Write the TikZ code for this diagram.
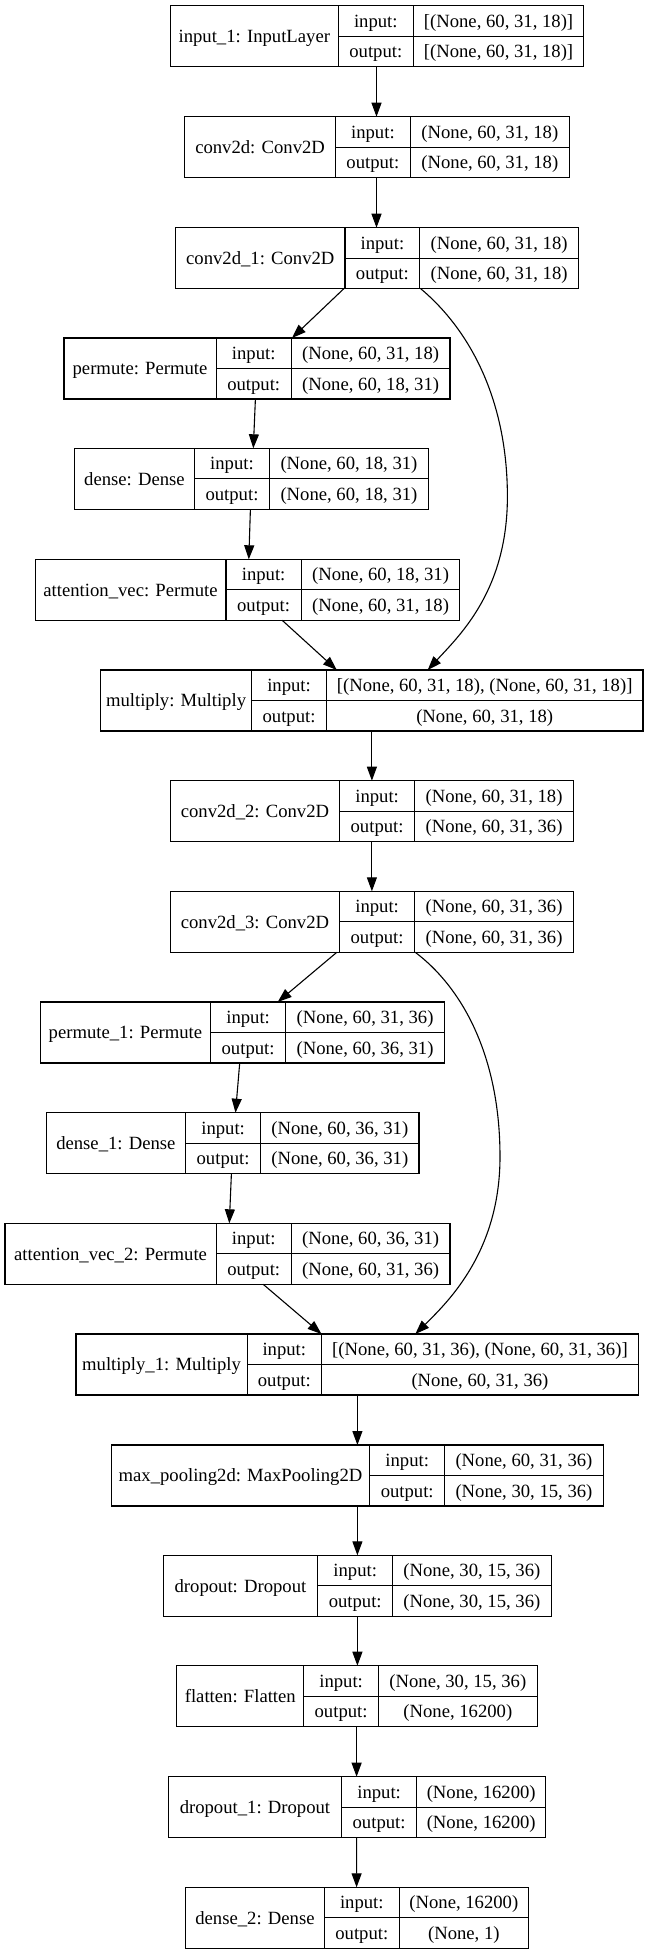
\documentclass[tikz,border=0pt]{standalone}
\usepackage{fontspec}
\setmainfont{Liberation Serif}
\usetikzlibrary{arrows.meta}
\tikzset{
  box/.style={draw=black, line width=1.1pt, rectangle, inner sep=0pt, outer sep=0pt, minimum height=61pt},
  txt/.style={inner sep=0pt, anchor=base, font=\fontsize{18.67}{22}\selectfont},
  rule/.style={draw=black, line width=1.1pt},
  arr/.style={draw=black, line width=1.1pt, -{Triangle[length=14pt,width=10pt]}}
}
\newcommand\krec[9]{%
  \pgfmathsetmacro\kW{#5-#2}%
  \pgfmathsetmacro\kA{(#2+#3)/2}%
  \pgfmathsetmacro\kB{(#3+#4)/2}%
  \pgfmathsetmacro\kC{(#4+#5)/2}%
  \pgfmathsetmacro\kT{#6+21.5}%
  \pgfmathsetmacro\kM{#6+36.7}%
  \pgfmathsetmacro\kU{#6+52}%
  \pgfmathsetmacro\kP{#3-#2}%
  \pgfmathsetmacro\kQ{#4-#2}%
  \node[box, minimum width=\kW pt, anchor=north west] (#1) at (#2,#6) {};
  \node[txt] (#1-l) at (\kA,\kM) {#7};
  \node[txt] (#1-ik) at (\kB,\kT) {input:};
  \node[txt] (#1-ok) at (\kB,\kU) {output:};
  \node[txt] (#1-iv) at (\kC,\kT) {#8};
  \node[txt] (#1-ov) at (\kC,\kU) {#9};
  \draw[rule] ([xshift=\kP pt]#1.north west) -- ([xshift=\kP pt]#1.south west);
  \draw[rule] ([xshift=\kQ pt]#1.north west) -- ([xshift=\kQ pt]#1.south west);
  \draw[rule] ([xshift=\kP pt]#1.west) -- (#1.east);
}
\begin{document}
\begin{tikzpicture}[x=1pt,y=-1pt]
\useasboundingbox (0,0) rectangle (647,1955);
\krec{n1}{170.2}{338.4}{413.2}{583.9}{5.7}{input\_1: InputLayer}{[(None, 60, 31, 18)]}{[(None, 60, 31, 18)]}
\krec{n2}{184.7}{335.5}{410.3}{569.4}{116.7}{conv2d: Conv2D}{(None, 60, 31, 18)}{(None, 60, 31, 18)}
\krec{n3}{175.6}{345}{419.8}{578.5}{227.7}{conv2d\_1: Conv2D}{(None, 60, 31, 18)}{(None, 60, 31, 18)}
\krec{n4}{64}{216.1}{291.3}{450}{338}{permute: Permute}{(None, 60, 31, 18)}{(None, 60, 18, 31)}
\krec{n5}{74.4}{194.6}{269.4}{428.5}{448.3}{dense: Dense}{(None, 60, 18, 31)}{(None, 60, 18, 31)}
\krec{n6}{35.1}{226}{301.2}{459.9}{559.3}{attention\_vec: Permute}{(None, 60, 18, 31)}{(None, 60, 31, 18)}
\krec{n7}{100.4}{251.7}{326.4}{643}{670}{multiply: Multiply}{[(None, 60, 31, 18), (None, 60, 31, 18)]}{(None, 60, 31, 18)}
\krec{n8}{170.2}{339.7}{414.5}{573.6}{780.7}{conv2d\_2: Conv2D}{(None, 60, 31, 18)}{(None, 60, 31, 36)}
\krec{n9}{170.2}{339.7}{414.5}{573.6}{891.3}{conv2d\_3: Conv2D}{(None, 60, 31, 36)}{(None, 60, 31, 36)}
\krec{n10}{40.1}{210.7}{285.5}{444.6}{1002}{permute\_1: Permute}{(None, 60, 31, 36)}{(None, 60, 36, 31)}
\krec{n11}{46.3}{185.5}{260.7}{419}{1112.7}{dense\_1: Dense}{(None, 60, 36, 31)}{(None, 60, 36, 31)}
\krec{n12}{5}{216.1}{291.3}{450}{1223.3}{attention\_vec\_2: Permute}{(None, 60, 36, 31)}{(None, 60, 31, 36)}
\krec{n13}{76}{247.1}{321.5}{638.4}{1334}{multiply\_1: Multiply}{[(None, 60, 31, 36), (None, 60, 31, 36)]}{(None, 60, 31, 36)}
\krec{n14}{111.2}{369.8}{444.6}{603.3}{1445}{max\_pooling2d: MaxPooling2D}{(None, 60, 31, 36)}{(None, 30, 15, 36)}
\krec{n15}{163.2}{317.8}{392.6}{551.2}{1555.3}{dropout: Dropout}{(None, 30, 15, 36)}{(None, 30, 15, 36)}
\krec{n16}{176.9}{303.7}{378.5}{537.2}{1665.7}{flatten: Flatten}{(None, 30, 15, 36)}{(None, 16200)}
\krec{n17}{168.2}{341.7}{416.5}{545.9}{1776.7}{dropout\_1: Dropout}{(None, 16200)}{(None, 16200)}
\krec{n18}{185.5}{324.4}{399.2}{528.5}{1887.3}{dense\_2: Dense}{(None, 16200)}{(None, 1)}
\coordinate (c1) at (507.4,496.7);
\coordinate (c2) at (500,1156.7);
\draw[arr] ([xshift=206.3pt]n1.south west) -- ([xshift=191.8pt]n2.north west);
\draw[arr] ([xshift=191.8pt]n2.south west) -- ([xshift=200.9pt]n3.north west);
\draw[arr] ([xshift=168.2pt]n3.south west) -- ([xshift=228pt]n4.north west);
\draw[arr] ([xshift=245.1pt]n3.south west) .. controls (470,330) and (507.4,400) .. (c1)
  .. controls (507.4,590) and (460,635) .. ([xshift=327.3pt]n7.north west);
\draw[arr] ([xshift=191.4pt]n4.south west) -- ([xshift=178.9pt]n5.north west);
\draw[arr] ([xshift=176pt]n5.south west) -- ([xshift=213.7pt]n6.north west);
\draw[arr] ([xshift=247.1pt]n6.south west) -- ([xshift=236.4pt]n7.north west);
\draw[arr] ([xshift=271.5pt]n7.south west) -- ([xshift=201.7pt]n8.north west);
\draw[arr] ([xshift=201.7pt]n8.south west) -- ([xshift=201.7pt]n9.north west);
\draw[arr] ([xshift=166.6pt]n9.south west) -- ([xshift=237.6pt]n10.north west);
\draw[arr] ([xshift=245.1pt]n9.south west) .. controls (465,990) and (500,1060) .. (c2)
  .. controls (500,1250) and (450,1300) .. ([xshift=339.3pt]n13.north west);
\draw[arr] ([xshift=199.6pt]n10.south west) -- ([xshift=189.2pt]n11.north west);
\draw[arr] ([xshift=185.1pt]n11.south west) -- ([xshift=224.3pt]n12.north west);
\draw[arr] ([xshift=258.2pt]n12.south west) -- ([xshift=245.5pt]n13.north west);
\draw[arr] ([xshift=281.4pt]n13.south west) -- ([xshift=246.2pt]n14.north west);
\draw[arr] ([xshift=246.2pt]n14.south west) -- ([xshift=194.2pt]n15.north west);
\draw[arr] ([xshift=194.2pt]n15.south west) -- ([xshift=180.5pt]n16.north west);
\draw[arr] ([xshift=179.7pt]n16.south west) -- ([xshift=188.4pt]n17.north west);
\draw[arr] ([xshift=188.4pt]n17.south west) -- ([xshift=171.1pt]n18.north west);
\end{tikzpicture}
\end{document}
